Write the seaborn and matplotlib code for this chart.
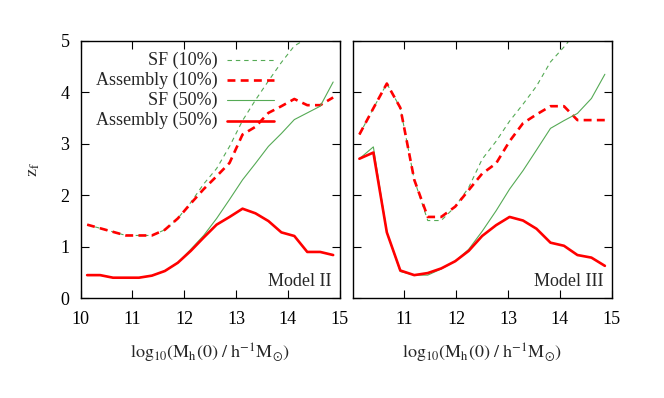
import matplotlib
matplotlib.use("Agg")
import matplotlib.pyplot as plt
import numpy as np
import pandas as pd
import seaborn as sns

# Model II (left panel)
mass_ii = [10.125, 10.375, 10.625, 10.875, 11.125, 11.375, 11.625, 11.875, 12.125, 12.375,
           12.625, 12.875, 13.125, 13.375, 13.625, 13.875, 14.125, 14.375, 14.625, 14.875]
sf10_ii = [1.43, 1.36, 1.29, 1.22, 1.22, 1.22, 1.33, 1.55, 1.86, 2.22,
           2.52, 2.95, 3.45, 3.85, 4.22, 4.58, 4.90, 5.05, 5.30, 5.50]
asm10_ii = [1.43, 1.36, 1.29, 1.22, 1.22, 1.22, 1.33, 1.55, 1.84, 2.12,
            2.37, 2.63, 3.18, 3.33, 3.60, 3.73, 3.87, 3.75, 3.75, 3.90]
sf50_ii = [0.45, 0.45, 0.40, 0.40, 0.40, 0.44, 0.53, 0.69, 0.95, 1.22,
           1.55, 1.92, 2.30, 2.62, 2.95, 3.20, 3.47, 3.60, 3.73, 4.20]
asm50_ii = [0.45, 0.45, 0.40, 0.40, 0.40, 0.44, 0.53, 0.69, 0.92, 1.18,
            1.43, 1.58, 1.74, 1.65, 1.50, 1.28, 1.21, 0.90, 0.90, 0.84]

# Model III (right panel)
mass_iii = [10.13, 10.40, 10.66, 10.92, 11.19, 11.45, 11.71, 11.98, 12.24, 12.50,
            12.77, 13.03, 13.29, 13.55, 13.82, 14.08, 14.34, 14.61, 14.87]
sf10_iii = [3.18, 3.69, 4.17, 3.70, 2.30, 1.51, 1.51, 1.78, 2.15, 2.70,
            3.05, 3.44, 3.77, 4.12, 4.59, 4.88, 5.20, 5.40, 5.60]
asm10_iii = [3.18, 3.69, 4.17, 3.70, 2.30, 1.58, 1.58, 1.78, 2.10, 2.42,
             2.62, 3.05, 3.40, 3.57, 3.73, 3.73, 3.46, 3.46, 3.46]
sf50_iii = [2.71, 2.94, 1.28, 0.52, 0.45, 0.45, 0.57, 0.72, 0.95, 1.30,
            1.70, 2.12, 2.48, 2.88, 3.30, 3.45, 3.59, 3.88, 4.35]
asm50_iii = [2.71, 2.83, 1.28, 0.54, 0.45, 0.49, 0.58, 0.72, 0.92, 1.21,
             1.42, 1.58, 1.51, 1.35, 1.08, 1.02, 0.84, 0.79, 0.63]

labels = ["SF (10%)", "Assembly (10%)", "SF (50%)", "Assembly (50%)"]
green = "#55aa55"
red = "#ff0000"
styles = {
    "SF (10%)": dict(color=green, lw=0.8, dashes=(4, 3.5)),
    "Assembly (10%)": dict(color=red, lw=1.9, dashes=(3, 2)),
    "SF (50%)": dict(color=green, lw=0.8, dashes=None),
    "Assembly (50%)": dict(color=red, lw=1.9, dashes=None),
}

sns.set_theme(style="ticks")
plt.rcParams["font.family"] = ["Liberation Serif", "DejaVu Serif"]
plt.rcParams["mathtext.fontset"] = "stix"
plt.rcParams["font.size"] = 13

fig = plt.figure(figsize=(6.64, 3.98), dpi=100)
ax1 = fig.add_axes([0.1215, 0.2505, 0.39, 0.647])
ax2 = fig.add_axes([0.5311, 0.2505, 0.39, 0.647])


def draw_panel(ax, mass, series, name):
    for lab, vals in zip(labels, series):
        df = pd.DataFrame({"mass": mass, "zf": vals})
        st = styles[lab]
        sns.lineplot(data=df, x="mass", y="zf", ax=ax, color=st["color"],
                     lw=st["lw"], legend=False)
        if st["dashes"] is not None:
            ax.get_lines()[-1].set_dashes(st["dashes"])
    ax.set_xlim(10, 15)
    ax.set_ylim(0, 5)
    ax.set_xlabel(r"$\mathrm{log_{10}(M_h(0)\ /\ h^{-1}M_{\odot})}$", fontsize=13)
    ax.xaxis.set_label_coords(0.5, -0.17)
    ax.tick_params(direction="in", top=True, right=True, length=5.5, width=0.8,
                   labelsize=13, colors="black")
    ax.tick_params(axis="x", pad=9)
    ax.tick_params(axis="y", pad=8)
    for s in ax.spines.values():
        s.set_linewidth(1.0)
        s.set_color("black")
    ax.text(0.968, 0.047, name, transform=ax.transAxes, ha="right",
            va="baseline", fontsize=13)


draw_panel(ax1, mass_ii, [sf10_ii, asm10_ii, sf50_ii, asm50_ii], "Model II")
draw_panel(ax2, mass_iii, [sf10_iii, asm10_iii, sf50_iii, asm50_iii], "Model III")

ax1.set_xticks([10, 11, 12, 13, 14, 15])
ax2.set_xticks([11, 12, 13, 14, 15])
ax1.set_yticks([0, 1, 2, 3, 4, 5])
ax2.set_yticks([0, 1, 2, 3, 4, 5])
ax2.set_yticklabels([])
ax2.set_ylabel("")

ax1.set_ylabel(r"$\mathrm{z_f}$", fontsize=13)
ax1.yaxis.set_label_coords(-0.15, 0.5)

# gnuplot-style key: right-aligned labels, samples to the right
key_rows = [0.924, 0.847, 0.770, 0.690]
for lab, yk in zip(labels, key_rows):
    st = styles[lab]
    ax1.text(0.530, yk, lab, transform=ax1.transAxes, ha="right", va="center",
             fontsize=13)
    ln, = ax1.plot([0.565, 0.748], [yk, yk], transform=ax1.transAxes,
                   color=st["color"], lw=st["lw"])
    if st["dashes"] is not None:
        ln.set_dashes(st["dashes"])

fig.savefig("out.png", dpi=100)
